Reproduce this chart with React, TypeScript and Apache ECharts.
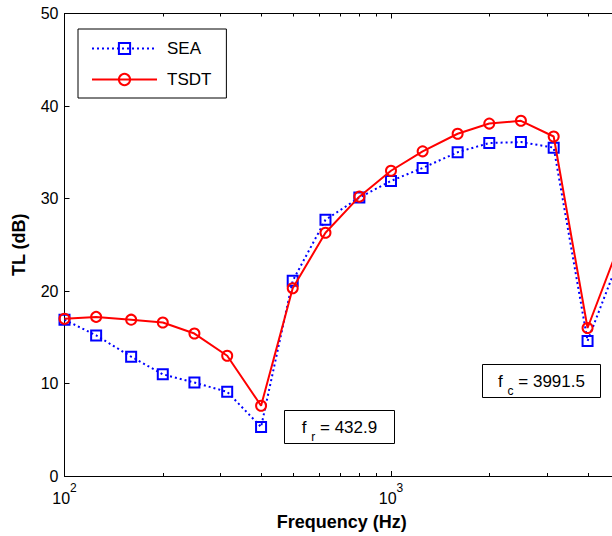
import React, { useEffect, useRef } from 'react';
import * as echarts from 'echarts';

const freqs = [100, 125, 160, 200, 250, 315, 400, 500, 630, 800, 1000, 1250, 1600, 2000, 2500, 3150, 4000, 5000];
const seaValues = [16.9, 15.2, 12.9, 11.0, 10.1, 9.1, 5.3, 21.1, 27.7, 30.1, 31.9, 33.3, 35.0, 36.0, 36.1, 35.5, 14.6, 23.5];
const tsdtValues = [17.0, 17.2, 16.9, 16.6, 15.4, 13.0, 7.6, 20.3, 26.3, 30.2, 33.0, 35.1, 37.0, 38.1, 38.4, 36.7, 16.0, 25.0];
const minorTickFreqs = [200, 300, 400, 500, 600, 700, 800, 900, 2000, 3000, 4000];
const seriesNames = ['SEA', 'TSDT'];
const xAxisTitle = 'Frequency (Hz)';
const yAxisTitle = 'TL (dB)';
const annotationSubs = ['r', 'c'];
const annotationValues = ['432.9', '3991.5'];

const FONT = '"Liberation Sans", Arial, Helvetica, sans-serif';

export default function App() {
  const ref = useRef<HTMLDivElement>(null);

  useEffect(() => {
    if (!ref.current) return;
    const chart = echarts.init(ref.current, null, { renderer: 'svg' });

    const xLabelFormatter = (v: number) => {
      const e = Math.round(Math.log10(v));
      if (Math.abs(Math.pow(10, e) - v) < 1e-6 * v) return `{b|10}{s|${e}}`;
      return '';
    };

    const xAxisCommon = {
      type: 'log' as const,
      logBase: 10,
      min: 100,
      max: 5000,
      axisLine: { show: true, onZero: false, lineStyle: { color: '#000', width: 1 } },
      axisTick: { show: true, inside: true, length: 5, lineStyle: { color: '#000', width: 1 } },
      splitLine: { show: false },
      minorTick: { show: false },
    };

    const yAxisCommon = {
      type: 'value' as const,
      min: 0,
      max: 50,
      interval: 10,
      axisLine: { show: true, onZero: false, lineStyle: { color: '#000', width: 1 } },
      axisTick: { show: true, inside: true, length: 5, lineStyle: { color: '#000', width: 1 } },
      splitLine: { show: false },
    };

    const annBoxes = [
      { x: 284.5, y: 410.5, w: 110, h: 33 },
      { x: 482.5, y: 364.5, w: 118, h: 33 },
    ];

    const graphic: any[] = [];
    annBoxes.forEach((b, i) => {
      graphic.push({
        type: 'rect',
        z: 100,
        shape: { x: b.x, y: b.y, width: b.w, height: b.h },
        style: { fill: '#fff', stroke: '#000', lineWidth: 1 },
      });
      graphic.push({
        type: 'text',
        z: 101,
        x: b.x + b.w / 2,
        y: b.y + b.h / 2,
        style: {
          text: `{m|f }{s|${annotationSubs[i]}}{m| = ${annotationValues[i]}}`,
          align: 'center',
          verticalAlign: 'middle',
          fill: '#000',
          rich: {
            m: { fontSize: 17, fontFamily: FONT, fill: '#000' },
            s: { fontSize: 12, fontFamily: FONT, fill: '#000', padding: [20, 0, 0, 0] },
          },
        },
      });
    });

    const option: any = {
      animation: false,
      backgroundColor: '#fff',
      textStyle: { fontFamily: FONT, color: '#000' },
      grid: { left: 64.5, top: 13.5, width: 554.7, height: 464.5, containLabel: false },
      legend: {
        data: seriesNames,
        orient: 'vertical',
        left: 78,
        top: 29,
        padding: [11, 15, 10, 13],
        itemGap: 14,
        itemWidth: 65,
        itemHeight: 14,
        borderColor: '#000',
        borderWidth: 1,
        backgroundColor: '#fff',
        textStyle: { fontSize: 17, fontFamily: FONT, color: '#000', padding: [0, 0, 0, 5] },
        z: 50,
      },
      xAxis: [
        {
          ...xAxisCommon,
          position: 'bottom',
          name: xAxisTitle,
          nameLocation: 'middle',
          nameGap: 37,
          nameTextStyle: { fontSize: 18, fontWeight: 'bold', fontFamily: FONT, color: '#000' },
          axisLabel: {
            show: true,
            margin: 6,
            formatter: xLabelFormatter,
            showMaxLabel: false,
            rich: {
              b: { fontSize: 16, fontFamily: FONT, color: '#000' },
              s: { fontSize: 12, fontFamily: FONT, color: '#000', padding: [0, 0, 20, 0] },
            },
          },
        },
        {
          ...xAxisCommon,
          position: 'top',
          axisLabel: { show: false },
        },
      ],
      yAxis: [
        {
          ...yAxisCommon,
          position: 'left',
          name: yAxisTitle,
          nameLocation: 'middle',
          nameGap: 37,
          nameTextStyle: { fontSize: 18, fontWeight: 'bold', fontFamily: FONT, color: '#000' },
          axisLabel: { show: true, margin: 6, fontSize: 16, fontFamily: FONT, color: '#000' },
        },
        {
          ...yAxisCommon,
          position: 'right',
          axisLabel: { show: false },
        },
      ],
      series: [
        {
          name: 'SEA',
          type: 'line',
          xAxisIndex: 0,
          yAxisIndex: 0,
          data: freqs.map((f, i) => [f, seaValues[i]]),
          symbol: 'rect',
          symbolSize: 10,
          showAllSymbol: true,
          lineStyle: { color: '#0000ff', width: 2, type: [2, 3] },
          itemStyle: { color: 'rgba(255,255,255,0)', borderColor: '#0000ff', borderWidth: 2 },
          z: 3,
        },
        {
          name: 'TSDT',
          type: 'line',
          xAxisIndex: 0,
          yAxisIndex: 0,
          data: freqs.map((f, i) => [f, tsdtValues[i]]),
          symbol: 'circle',
          symbolSize: 10,
          showAllSymbol: true,
          lineStyle: { color: '#ff0000', width: 2, type: 'solid' },
          itemStyle: { color: 'rgba(255,255,255,0)', borderColor: '#ff0000', borderWidth: 2 },
          z: 4,
        },
        {
          name: 'minorTicks',
          type: 'custom',
          xAxisIndex: 0,
          yAxisIndex: 0,
          silent: true,
          clip: false,
          data: minorTickFreqs.map((f) => [f, 0]),
          renderItem: (params: any, api: any) => {
            const f = api.value(0);
            const pb = api.coord([f, 0]);
            const pt = api.coord([f, 50]);
            const x = Math.round(pb[0]) + 0.5;
            return {
              type: 'group',
              children: [
                { type: 'line', shape: { x1: x, y1: pb[1], x2: x, y2: pb[1] - 3 }, style: { stroke: '#000', lineWidth: 1 } },
                { type: 'line', shape: { x1: x, y1: pt[1], x2: x, y2: pt[1] + 3 }, style: { stroke: '#000', lineWidth: 1 } },
              ],
            };
          },
          z: 2,
        },
      ],
      graphic,
    };

    chart.setOption(option);
    return () => chart.dispose();
  }, []);

  return (
    <div style={{ position: 'absolute', left: 0, top: 0, width: 612, height: 536, overflow: 'hidden', background: '#fff' }}>
      <div ref={ref} style={{ width: 660, height: 536 }} />
    </div>
  );
}
